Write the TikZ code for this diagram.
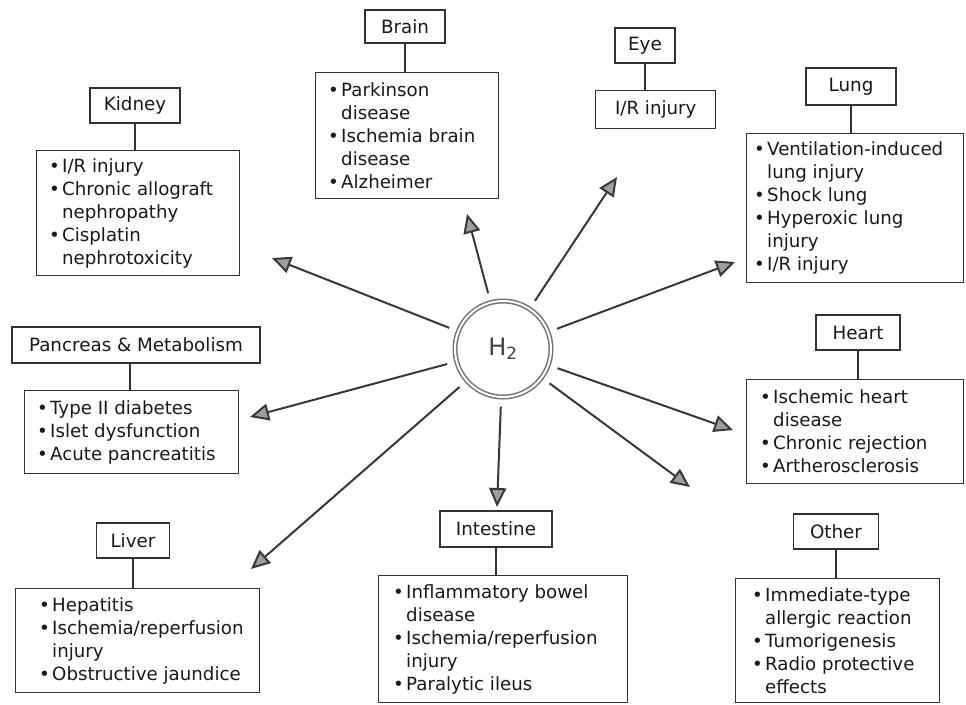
\documentclass[tikz,border=0pt]{standalone}
\usepackage{fontspec}
\setmainfont{DejaVu Sans}
\usetikzlibrary{arrows.meta}

% bullet line and its continuation (hanging indent)
\newcommand\bitem[1]{\makebox[13pt][l]{•}#1}
\newcommand\bcont[1]{\hspace*{13pt}#1}

\begin{document}
\begin{tikzpicture}[x=1pt,y=-1pt,
  every node/.style={text=black!90},
  ttl/.style={draw=black!80, line width=1.4pt, fill=white, inner sep=0pt,
              font=\fontsize{18.3}{22}\selectfont},
  cbox/.style={draw=black!80, line width=1.4pt, anchor=north west, inner sep=0pt},
  items/.style={anchor=west, align=left, inner sep=0pt,
                font=\fontsize{18.2}{23}\selectfont},
  link/.style={draw=black!80, line width=1.4pt},
  arr/.style={draw=black!78, line width=2pt, shorten <=9pt,
              -{Triangle[length=19pt,width=17pt,fill=black!38]}}
]
\useasboundingbox (0,0) rectangle (966,704);

% central hydrogen node
\node[circle, draw=black!55, double, double distance=2pt, line width=1.5pt,
      minimum size=96pt, font=\fontsize{24}{26}\selectfont, text=black!75]
      (h2) at (503,349) {H\textsubscript{2}};

% Kidney
\node[ttl, minimum width=90pt, minimum height=35pt] (kidT) at (135,105.5) {Kidney};
\node[cbox, minimum width=203pt, minimum height=125pt] (kidC) at (36,150) {};
\node[items] (kidL) at ([xshift=13pt]kidC.west) {\bitem{I/R injury}\\\bitem{Chronic allograft}\\\bcont{nephropathy}\\\bitem{Cisplatin}\\\bcont{nephrotoxicity}};
\draw[link] (kidT.south) -- (kidT.south |- kidC.north);

% Brain
\node[ttl, minimum width=80pt, minimum height=33pt] (brT) at (405,26.5) {Brain};
\node[cbox, minimum width=183pt, minimum height=126pt] (brC) at (315,72) {};
\node[items] (brL) at ([xshift=13pt]brC.west) {\bitem{Parkinson}\\\bcont{disease}\\\bitem{Ischemia brain}\\\bcont{disease}\\\bitem{Alzheimer}};
\draw[link] (brT.south) -- (brT.south |- brC.north);

% Eye
\node[ttl, minimum width=60pt, minimum height=35pt] (eyT) at (645,45.5) {Eye};
\node[cbox, minimum width=120pt, minimum height=38pt] (eyC) at (595,90) {};
\node[items, anchor=center] (eyL) at (eyC.center) {I/R injury};
\draw[link] (eyT.south) -- (eyT.south |- eyC.north);

% Lung
\node[ttl, minimum width=90pt, minimum height=37pt] (luT) at (851,86.5) {Lung};
\node[cbox, minimum width=217pt, minimum height=149pt] (luC) at (746,133) {};
\node[items] (luL) at ([xshift=8pt]luC.west) {\bitem{Ventilation-induced}\\\bcont{lung injury}\\\bitem{Shock lung}\\\bitem{Hyperoxic lung}\\\bcont{injury}\\\bitem{I/R injury}};
\draw[link] (luT.south) -- (luT.south |- luC.north);

% Pancreas & Metabolism
\node[ttl, minimum width=248pt, minimum height=36pt] (paT) at (136,345) {Pancreas \& Metabolism};
\node[cbox, minimum width=214pt, minimum height=83pt] (paC) at (24,390) {};
\node[items] (paL) at ([xshift=13pt]paC.west) {\bitem{Type II diabetes}\\\bitem{Islet dysfunction}\\\bitem{Acute pancreatitis}};
\draw[link] (paC.north -| 130,0) -- (paT.south -| 130,0);

% Heart
\node[ttl, minimum width=84pt, minimum height=35pt] (heT) at (858,332.5) {Heart};
\node[cbox, minimum width=217pt, minimum height=104pt] (heC) at (746,379) {};
\node[items] (heL) at ([xshift=14pt]heC.west) {\bitem{Ischemic heart}\\\bcont{disease}\\\bitem{Chronic rejection}\\\bitem{Artherosclerosis}};
\draw[link] (heT.south) -- (heT.south |- heC.north);

% Liver
\node[ttl, minimum width=73pt, minimum height=35pt] (liT) at (133,540.5) {Liver};
\node[cbox, minimum width=244pt, minimum height=104pt] (liC) at (15,588) {};
\node[items] (liL) at ([xshift=24pt]liC.west) {\bitem{Hepatitis}\\\bitem{Ischemia/reperfusion}\\\bcont{injury}\\\bitem{Obstructive jaundice}};
\draw[link] (liT.south) -- (liT.south |- liC.north);

% Intestine
\node[ttl, minimum width=112pt, minimum height=36pt] (inT) at (496,529) {Intestine};
\node[cbox, minimum width=249pt, minimum height=127pt] (inC) at (378,575) {};
\node[items] (inL) at ([xshift=15pt]inC.west) {\bitem{Inflammatory bowel}\\\bcont{disease}\\\bitem{Ischemia/reperfusion}\\\bcont{injury}\\\bitem{Paralytic ileus}};
\draw[link] (inT.south) -- (inT.south |- inC.north);

% Other
\node[ttl, minimum width=85pt, minimum height=35pt] (otT) at (836,531.5) {Other};
\node[cbox, minimum width=204pt, minimum height=124pt] (otC) at (735,578) {};
\node[items] (otL) at ([xshift=17pt]otC.west) {\bitem{Immediate-type}\\\bcont{allergic reaction}\\\bitem{Tumorigenesis}\\\bitem{Radio protective}\\\bcont{effects}};
\draw[link] (otT.south) -- (otT.south |- otC.north);

% arrow tips
\coordinate (kidA) at (272,258);
\coordinate (brA)  at (467,214);
\coordinate (eyA)  at (617,177);
\coordinate (luA)  at (735,262);
\coordinate (heA)  at (733,430);
\coordinate (otA)  at (690,487);
\coordinate (inA)  at (497,507);
\coordinate (liA)  at (251,569);
\coordinate (paA)  at (250,417);

\foreach \t in {kidA,brA,eyA,luA,heA,otA,inA,liA,paA}
  \draw[arr] (h2) -- (\t);
\end{tikzpicture}
\end{document}
